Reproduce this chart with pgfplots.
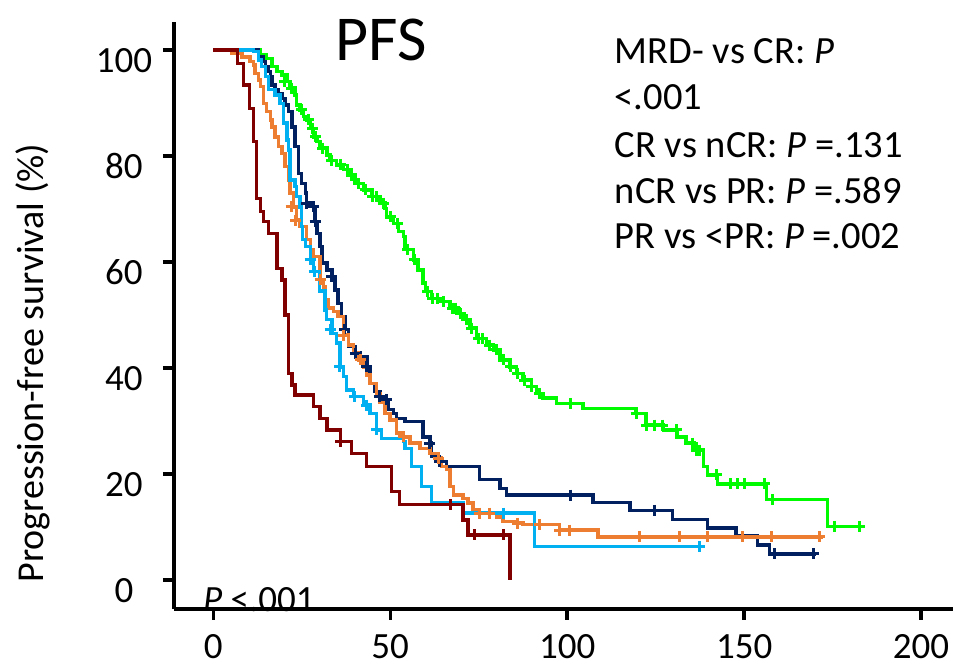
\documentclass[border=0pt]{standalone}
\usepackage{pgfplots}
\pgfplotsset{compat=1.18}
\usepackage{fontspec}
\setmainfont{Carlito}
\definecolor{cgreen}{RGB}{0,250,0}
\definecolor{cnavy}{RGB}{0,32,96}
\definecolor{cblue}{RGB}{0,176,240}
\definecolor{corange}{RGB}{237,125,49}
\definecolor{cred}{RGB}{128,0,0}
\begin{document}
\begin{tikzpicture}
\begin{axis}[
  x=3.54pt, y=5.3pt,
  xmin=-11.1, xmax=209, ymin=-5.47, ymax=105.3,
  axis lines=left,
  axis line style={-, line width=3.4pt, black},
  tick align=outside, major tick length=11pt,
  tick style={line width=3.4pt, black},
  minor tick num=0,
  xtick={0,50,100,150,200}, ytick={0,20,40,60,80,100},
  /pgf/number format/assume math mode=true,
  tick label style={font=\fontsize{37}{44}\selectfont, inner sep=0pt},
  xticklabel style={anchor=center, yshift=-27pt},
  yticklabel style={anchor=center, xshift=-39pt, yshift=-10.5pt},
  clip=false,
]
\coordinate (bl) at (rel axis cs:0,0);
% MRD- (green)
\addplot[cgreen, const plot, line width=3.4pt] coordinates {
(0,100)(13.3,99.1)(15.1,98.4)(16.6,96.9)(18,95.9)(19.4,95.3)(20.8,94)(21.7,92.8)
(23.1,91.5)(23.6,89.6)(24.5,88.7)(25.5,87.4)(26.4,86.8)(27.4,85.2)(28.3,83.6)
(29.3,82.7)(30.2,81.5)(32.1,80.2)(33,79.2)(34.9,78.3)(36.8,77.4)(38.2,76.4)
(40.1,74.8)(42.4,73.6)(44.8,72.3)(47.1,71.1)(48.5,70.1)(49,68.5)(50.9,67.3)
(52.3,65.7)(53.7,64.8)(54.2,62.3)(56.5,60.4)(57.9,58.5)(59.3,56)(60,54.4)
(61.7,53.1)(64.5,52.5)(66.9,51.3)(69.2,50.3)(70.6,49.1)(72.5,47.5)(74.4,45.6)
(77.2,44.3)(79.1,43.4)(81,41.5)(83.8,40.2)(85.7,39)(87.5,37.7)(89.9,36.5)
(91.3,35.2)(93.2,34.3)(97,33.3)(104.5,32.3)(119.5,31.4)(122.3,29.2)(127.3,28.3)
(131,27)(133.6,25.8)(135.8,24.5)(138.5,21.4)(139.7,19.8)(142.5,18.1)(156.4,15.2)
(173.6,10.1)(183.9,10.1)};
\addplot[cgreen, only marks, mark=+, mark size=5.5pt, mark options={line width=3pt}] coordinates {
(20,94)(22,92.8)(25,88.7)(27,86.8)(28,85.2)(29,83.6)(31,81.5)(33.5,79.2)(36,78.3)
(38,77.4)(39,76.4)(41,74.8)(43,73.6)(45,72.3)(46,72.3)(48,71.1)(50,68.5)(52,67.3)
(55,62.3)(57,60.4)(60.5,54.4)(62,53.1)(63.5,53.1)(65,52.5)(67.5,51.3)(68.5,51.3)
(70,50.3)(71.5,49.1)(73,47.5)(75,45.6)(76,45.6)(78,44.3)(80,43.4)(82,41.5)
(84,40.2)(86,39)(88,37.7)(90,36.5)(92.2,35.2)(100.9,33.3)(119.5,31.4)(122.3,29.2)
(124.7,29.2)(127,29.2)(130.8,28.3)(135.5,25.8)(136.4,24.5)(137.3,24.5)(142.1,19.8)
(146.2,18.1)(148.1,18.1)(150,18.1)(155.7,18.1)(158,15.2)(175.5,10.1)(182.5,10.1)};
% CR (navy)
\addplot[cnavy, const plot, line width=3.4pt] coordinates {
(0,100)(12.8,98.7)(14.2,97.8)(14.7,96.9)(15.6,95.9)(16.1,95)(16.6,93.4)(17.5,92.5)
(18.4,91.8)(19.4,90.9)(20.3,89.6)(21.2,88.4)(22.2,85.5)(23.1,81.8)(24.1,76.7)
(25,74.8)(26,73)(26.4,71.1)(28.3,70.4)(28.8,67.6)(29.3,65.4)(30.2,62.9)(30.7,59.8)
(32.1,58.5)(33.5,57.2)(34.4,54.7)(35.3,52.2)(36.3,49.7)(37.2,47.2)(38.2,44)
(40.1,42.8)(41.5,42.1)(43.4,40.2)(44.3,37.1)(45.7,35.5)(47.1,34.6)(49,34)
(49.5,32.1)(50.9,31.4)(51.8,30.5)(54.2,29.9)(59.3,27)(61.2,25.8)(61.7,23.3)
(64,22.3)(65.9,21.4)(75.3,18.9)(81,17.3)(82.8,16)(107.3,14.6)(117.8,13.1)
(129.8,11.4)(139.7,9.8)(147.7,8.3)(153.8,6.6)(157.1,4.9)(170.2,4.9)};
\addplot[cnavy, only marks, mark=+, mark size=5.5pt, mark options={line width=3pt}] coordinates {
(26.4,71.1)(28.3,70.4)(28.8,67.6)(33.5,57.2)(37.2,47.2)(40.1,42.8)(43.4,40.2)
(47.1,34.6)(49,34)(61.2,25.8)(64,22.3)(100.9,16)(124.7,13.1)(158.5,4.9)(169.5,4.9)};
% PR (orange)
\addplot[corange, const plot, line width=3.4pt] coordinates {
(0,100)(5.3,99.4)(8.1,98.7)(10.4,97.8)(11.4,97.2)(11.8,95.6)(12.8,94.3)(13.3,93.1)
(14.2,89.9)(15.1,88.4)(16.1,86.8)(16.6,85.5)(17.5,83.6)(18.4,81.8)(19.4,80.5)
(20.3,78)(21.2,75.5)(21.7,73)(22.7,70.4)(23.6,67.9)(24.5,66.7)(26.4,64.2)
(27.4,62.3)(28.3,61)(30.2,56.6)(31.1,55.3)(31.6,52.8)(32.5,51.3)(33.9,50.6)
(35.3,49.7)(36.8,46.2)(38.2,44.3)(39.6,42.8)(41,41.5)(42.4,40.2)(43.3,38.7)
(44.3,37.1)(46.2,35.2)(47.1,33.6)(48.5,31.4)(49.9,30.2)(51.8,27.7)(53.7,27)
(55.6,25.8)(58.4,24.8)(61.2,23.9)(63.6,23)(64.5,21.4)(65.9,20.8)(66.9,17.6)
(67.8,16)(70.6,15.4)(72,14.5)(73.4,13.2)(75.3,12.6)(80,11.9)(81.9,11)(85.7,10.7)
(87.5,10.4)(97.9,9.4)(108.7,8.1)(172.2,8.1)};
\addplot[corange, only marks, mark=+, mark size=5.5pt, mark options={line width=3pt}] coordinates {
(22,70.4)(23.3,67.9)(30.2,56.6)(36.8,46.2)(41.5,41.5)(53.7,27)(63.6,23)(75.3,12.6)
(78,12.6)(86,10.7)(92.2,10.4)(97.9,9.4)(100.7,9.4)(120.5,8.1)(131.7,8.1)(139.7,8.1)
(149.6,8.1)(157.6,8.1)(171.3,8.1)};
% nCR (light blue)
\addplot[cblue, const plot, line width=3.4pt] coordinates {
(0,100)(11.4,99.7)(12.8,98.1)(13.7,96.9)(14.7,95)(15.6,92.5)(17.5,91.5)(18.9,89.9)
(19.8,86.2)(20.8,83)(21.3,81.1)(21.7,75.5)(23.1,74.2)(23.6,72.3)(24.5,70.4)
(25,66.7)(25.3,64.2)(26,62.9)(27.4,60.4)(28.3,58.2)(30,54.5)(31.6,50.9)(32,49.1)
(33.5,46.5)(34.9,44.7)(35.8,40.2)(36.8,38.4)(37.7,35.8)(39.6,34.6)(42.4,33)
(44.3,31.4)(46.2,28.3)(47.5,26.7)(53.7,26.1)(54.2,24.8)(56,21.4)(58.9,17.6)
(61.7,14.5)(70.6,12.6)(90.8,6.3)(137.4,6.3)};
\addplot[cblue, only marks, mark=+, mark size=5.5pt, mark options={line width=3pt}] coordinates {
(27.4,60.4)(28.5,58.2)(33,47.2)(35.8,40.2)(40,34.6)(43.3,33)(46.2,28.3)(81.9,12.6)
(137.4,6.3)};
% <PR (dark red)
\addplot[cred, const plot, line width=3.4pt] coordinates {
(0,100)(6.9,97.5)(8.6,93.4)(10.2,89)(11.4,82.7)(12.3,72)(13.3,69.5)(14.2,67.6)
(15.6,65.4)(18.0,58.8)(19.4,56.6)(20.3,50)(21.3,39)(22.2,36.8)(23.1,34.9)
(28.3,32.7)(30.2,30.5)(32.1,28.3)(36.0,26.1)(39.1,23.9)(43.3,21.4)(50.4,16.7)
(52.7,14.2)(70.6,11.3)(72.0,8.5)(83.8,0)};
\addplot[cred, only marks, mark=+, mark size=5.5pt, mark options={line width=3pt}] coordinates {
(36,26.1)(66.9,14.2)(73.9,8.5)(81.9,8.5)};
% texts
\node[anchor=base, inner sep=0, font=\fontsize{64}{70}\selectfont] at (axis cs:47.4,98.1) {PFS};
\node[anchor=base west, inner sep=0, font=\fontsize{38.5}{46}\selectfont] at (axis cs:113.4,97.5) {MRD- vs CR: \textit{P}};
\node[anchor=base west, inner sep=0, font=\fontsize{38.5}{46}\selectfont] at (axis cs:113.4,88.7) {<.001};
\node[anchor=base west, inner sep=0, font=\fontsize{38.5}{46}\selectfont] at (axis cs:113.4,79.8) {CR vs nCR: \textit{P} =.131};
\node[anchor=base west, inner sep=0, font=\fontsize{38.5}{46}\selectfont] at (axis cs:113.4,71.1) {nCR vs PR: \textit{P} =.589};
\node[anchor=base west, inner sep=0, font=\fontsize{38.5}{46}\selectfont] at (axis cs:113.4,62.6) {PR vs <PR: \textit{P} =.002};
\node[rotate=90, inner sep=0, font=\fontsize{38}{44}\selectfont] at (axis cs:-50.9,40.9) {Progression-free survival (\%)};
\node[anchor=base west, inner sep=0, font=\fontsize{37}{44}\selectfont] at (axis cs:-2.9,-6.04) {\textit{P} <.001};
\end{axis}
\pgfresetboundingbox
\path[use as bounding box] ([shift={(-174pt,-55pt)}]bl) rectangle ([shift={(779.2pt,609pt)}]bl);
\end{tikzpicture}
\end{document}
